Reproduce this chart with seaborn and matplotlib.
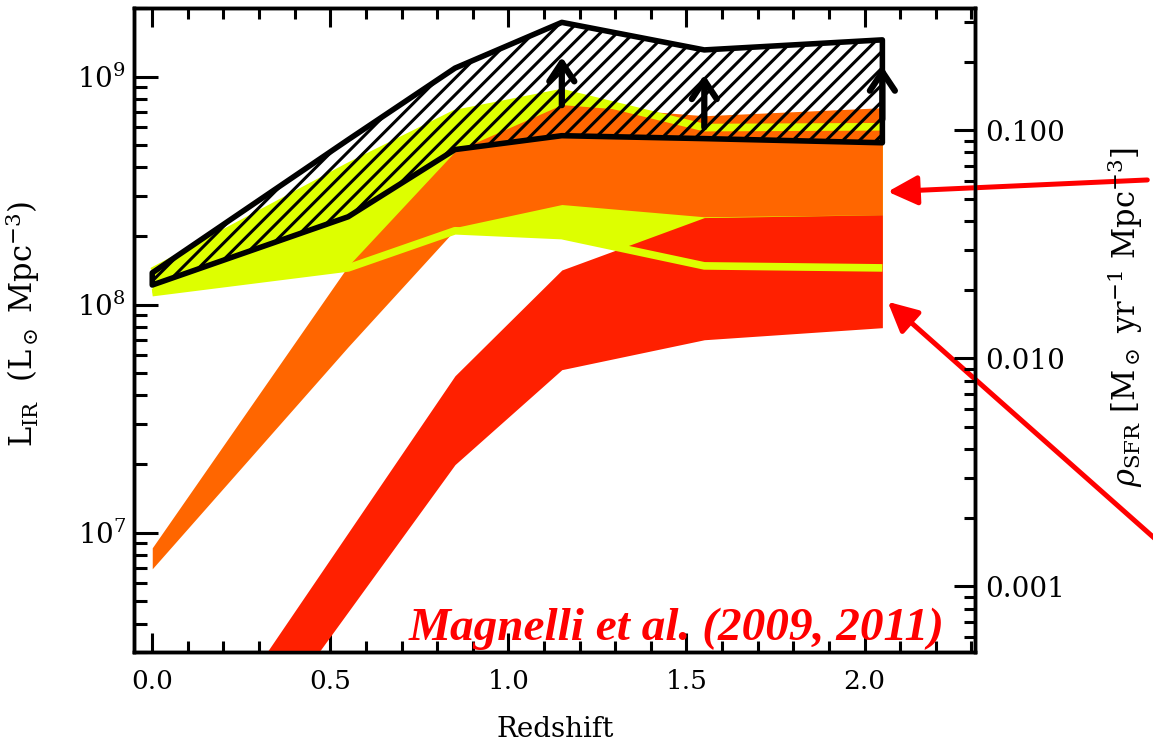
import numpy as np
import pandas as pd
import matplotlib
matplotlib.use("Agg")
import matplotlib.pyplot as plt
import seaborn as sns
from matplotlib.ticker import MultipleLocator, FormatStrFormatter, LogLocator, FixedLocator, NullFormatter

# ---------------- data ----------------
z = [0.0, 0.55, 0.85, 1.15, 1.55, 2.05]
total_lo = [1.13e8, 1.45e8, 2.11e8, 2.01e8, 1.48e8, 1.45e8]
total_hi = [1.40e8, 4.03e8, 6.88e8, 8.51e8, 5.98e8, 6.03e8]

z_lirg_a = [0.0, 0.55, 0.85]
lirg_a_lo = [6.95e6, 6.54e7, 2.13e8]
lirg_a_hi = [8.59e6, 1.48e8, 2.48e8]

z_lirg_b = [0.55, 0.85, 1.15, 1.55, 2.05]
lirg_b_lo = [1.47e8, 2.18e8, 2.75e8, 2.43e8, 2.48e8]
lirg_b_hi = [1.48e8, 4.70e8, 7.54e8, 6.74e8, 7.31e8]

ulirg_lo = [2.95e5, 4.5e6, 1.99e7, 5.19e7, 7.02e7, 7.93e7]
ulirg_hi = [5.46e5, 1.0e7, 4.88e7, 1.42e8, 2.41e8, 2.48e8]

limit_lo = [1.22e8, 2.43e8, 4.79e8, 5.51e8, 5.35e8, 5.13e8]
limit_hi = [1.38e8, 5.29e8, 1.09e9, 1.73e9, 1.31e9, 1.45e9]

arrow_z = [1.15, 1.55, 2.05]
arrow_base = [7.5e8, 6.0e8, 6.5e8]
arrow_tip = [1.22e9, 1.02e9, 1.11e9]

x_ticks = [0.0, 0.5, 1.0, 1.5, 2.0]
sfr_ticks = [0.001, 0.010, 0.100]
sfr_factor = 1.72e-10

YELLOW = "#DDFF00"
ORANGE = "#FF6600"
RED = "#FF2000"

# ---------------- style ----------------
sns.set_theme(style="ticks")
plt.rcParams["font.family"] = ["DejaVu Serif"]
plt.rcParams["mathtext.fontset"] = "dejavuserif"
plt.rcParams["hatch.linewidth"] = 2.2
plt.rcParams["axes.edgecolor"] = "black"
plt.rcParams["axes.labelcolor"] = "black"
plt.rcParams["text.color"] = "black"
plt.rcParams["xtick.color"] = "black"
plt.rcParams["ytick.color"] = "black"

fig = plt.figure(figsize=(11.53, 7.42), dpi=100)
ax = fig.add_axes([0.1166, 0.1213, 0.8456 - 0.1166, 0.9892 - 0.1213])
ax.set_yscale("log")

df_total = pd.DataFrame({"z": z, "lo": total_lo, "hi": total_hi})
df_limit = pd.DataFrame({"z": z, "lo": limit_lo, "hi": limit_hi})

# bands
ax.fill_between(z, total_lo, total_hi, color=YELLOW, lw=0, zorder=1)
ax.fill_between(z_lirg_a, lirg_a_lo, lirg_a_hi, color=ORANGE, lw=0, zorder=2)
ax.fill_between(z_lirg_b, lirg_b_lo, lirg_b_hi, color=ORANGE, lw=0, zorder=3)
ax.fill_between(z, ulirg_lo, ulirg_hi, color=RED, lw=0, zorder=4)

# total band edges
for col in ["lo", "hi"]:
    sns.lineplot(data=df_total, x="z", y=col, ax=ax, color=YELLOW, lw=5.5,
                 zorder=5, solid_capstyle="butt", legend=False)

# hatched lower-limit band
ax.fill_between(df_limit["z"], df_limit["lo"], df_limit["hi"], facecolor="none",
                edgecolor="black", hatch="//", lw=4, joinstyle="round", zorder=6)

# lower-limit arrows
for zz, b, t in zip(arrow_z, arrow_base, arrow_tip):
    ax.annotate("", xy=(zz, t), xytext=(zz, b),
                arrowprops=dict(arrowstyle="->,head_length=0.45,head_width=0.3",
                                lw=4.5, color="black", shrinkA=0, shrinkB=0,
                                mutation_scale=30), zorder=8)

ax.set_xlim(-0.05, 2.31)
ax.set_ylim(3.0e6, 2.0e9)

ax.xaxis.set_major_locator(FixedLocator(x_ticks))
ax.xaxis.set_minor_locator(MultipleLocator(0.1))
ax.xaxis.set_major_formatter(FormatStrFormatter("%.1f"))
ax.yaxis.set_major_locator(LogLocator(base=10))
ax.yaxis.set_minor_locator(LogLocator(base=10, subs=np.arange(2, 10)))
ax.yaxis.set_minor_formatter(NullFormatter())

ax.tick_params(axis="x", which="both", direction="in", top=True, bottom=True,
               labelsize=19, pad=12)
ax.tick_params(axis="x", which="major", length=14, width=2.2)
ax.tick_params(axis="x", which="minor", length=8, width=2.2)
ax.tick_params(axis="y", which="both", direction="in", left=True, right=False,
               labelsize=20, pad=6)
ax.tick_params(axis="y", which="major", length=17, width=2.2)
ax.tick_params(axis="y", which="minor", length=9, width=2.2)
for s in ax.spines.values():
    s.set_linewidth(2.5)
    s.set_color("black")

ax.set_xlabel("Redshift", fontsize=20, color="black")
ax.xaxis.set_label_coords(0.5, -0.1)
ax.set_ylabel(r"L$_{\rm IR}$  (L$_\odot$ Mpc$^{-3}$)", fontsize=22, color="black")
ax.yaxis.set_label_coords(-0.11, 0.51)

# right axis: SFR density
ax2 = ax.twinx()
ax2.set_yscale("log")
ax2.set_ylim(3.0e6 * sfr_factor, 2.0e9 * sfr_factor)
ax2.yaxis.set_major_locator(FixedLocator(sfr_ticks))
ax2.yaxis.set_major_formatter(FormatStrFormatter("%.3f"))
ax2.yaxis.set_minor_locator(LogLocator(base=10, subs=np.arange(2, 10)))
ax2.yaxis.set_minor_formatter(NullFormatter())
ax2.tick_params(axis="y", which="both", direction="in", right=True, left=False,
                labelsize=20, pad=7)
ax2.tick_params(axis="y", which="major", length=15, width=2.2)
ax2.tick_params(axis="y", which="minor", length=8, width=2.2)
for s in ax2.spines.values():
    s.set_linewidth(2.5)
    s.set_color("black")
ax2.set_ylabel(r"$\rho_{\rm SFR}$ [M$_\odot$ yr$^{-1}$ Mpc$^{-3}$]", fontsize=22,
               color="black")
ax2.yaxis.set_label_coords(1.155, 0.52)

# reference text
ax.text(0.964, 0.019, "Magnelli et al. (2009, 2011)", transform=ax.transAxes,
        ha="right", va="baseline", color="red", fontsize=34,
        family=["Liberation Serif", "DejaVu Serif"], style="italic",
        weight="bold", zorder=9)

# red pointer arrows
ax.annotate("", xy=(2.065, 3.13e8), xycoords="data", xytext=(1.205, 0.733),
            textcoords="axes fraction", annotation_clip=False,
            arrowprops=dict(arrowstyle="-|>,head_length=0.9,head_width=0.45",
                            mutation_scale=20, lw=3.6, color="red",
                            shrinkA=0, shrinkB=0), zorder=10)
ax.annotate("", xy=(2.065, 1.03e8), xycoords="data", xytext=(1.215, 0.175),
            textcoords="axes fraction", annotation_clip=False,
            arrowprops=dict(arrowstyle="-|>,head_length=0.9,head_width=0.45",
                            mutation_scale=20, lw=3.6, color="red",
                            shrinkA=0, shrinkB=0), zorder=10)

fig.savefig("out.png", dpi=100, facecolor="white")
